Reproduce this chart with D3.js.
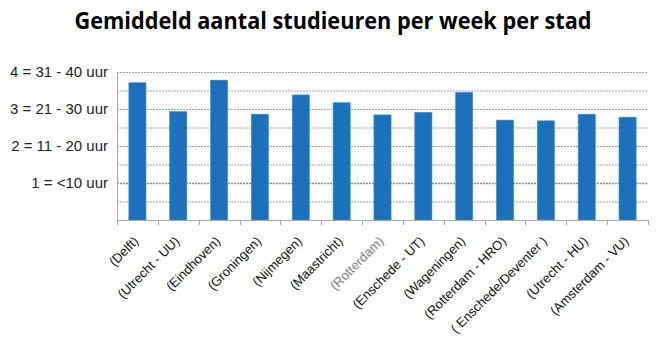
<!DOCTYPE html>
<html><head><meta charset="utf-8">
<script src="https://cdn.jsdelivr.net/npm/d3@7"></script>
<style>body{margin:0;background:#fff}svg{display:block}</style>
</head><body><svg id="c" width="666" height="348"></svg>
<script>
const categories = ["(Delft)","(Utrecht - UU)","(Eindhoven)","(Groningen)","(Nijmegen)","(Maastricht)","(Rotterdam)","(Enschede - UT)","(Wageningen)","(Rotterdam - HRO)","( Enschede/Deventer )","(Utrecht - HU)","(Amsterdam - VU)"];
const values = [3.71,2.93,3.78,2.86,3.38,3.17,2.84,2.91,3.45,2.70,2.68,2.86,2.78];
const yTickValues = [1,2,3,4];
const yTickLabels = ["1 = <10 uur","2 = 11 - 20 uur","3 = 21 - 30 uur","4 = 31 - 40 uur"];
const title = "Gemiddeld aantal studieuren per week per stad";

const svg = d3.select("#c");
const L = 117, R = 648, T = 72, B = 220;
const x = d3.scaleBand().domain(categories).range([L, R]).paddingInner(0.58).paddingOuter(0.29);
const xb = d3.scaleBand().domain(categories).range([L, R]);
const y = d3.scaleLinear().domain([0, 4]).range([B, T]);

svg.append("text").attr("x", 333).attr("y", 29).attr("text-anchor", "middle")
  .attr("font-family", "Open Sans").attr("font-weight", "bold").attr("font-size", 22.5)
  .attr("textLength", 517).attr("lengthAdjust", "spacingAndGlyphs")
  .attr("fill", "#000").text(title);

// gridlines
const grid = d3.range(0.5, 4.01, 0.5);
svg.append("g").selectAll("line").data(grid).join("line")
  .attr("x1", L).attr("x2", R).attr("y1", d => y(d) + 0.5).attr("y2", d => y(d) + 0.5)
  .attr("stroke", d => d === 1 ? "#8a8a8a" : "#a0a0a0")
  .attr("stroke-width", d => d === 1 ? 1.6 : 1)
  .attr("stroke-dasharray", "2,1");

// bars
svg.append("g").selectAll("rect").data(values).join("rect")
  .attr("x", (d, i) => x(categories[i])).attr("width", x.bandwidth())
  .attr("y", d => y(d)).attr("height", d => B - y(d))
  .attr("fill", "#1b72ba").attr("stroke", "#3d8fd0").attr("stroke-width", 0.6);

// axes
svg.append("line").attr("x1", L + 0.5).attr("x2", L + 0.5).attr("y1", T).attr("y2", B)
  .attr("stroke", "#a8a8a8");
svg.append("line").attr("x1", L).attr("x2", R).attr("y1", B + 0.5).attr("y2", B + 0.5)
  .attr("stroke", "#a8a8a8");
svg.append("g").selectAll("line").data(d3.range(categories.length + 1)).join("line")
  .attr("x1", i => Math.round(L + i * xb.step()) + 0.5).attr("x2", i => Math.round(L + i * xb.step()) + 0.5)
  .attr("y1", B).attr("y2", B + 5).attr("stroke", "#a8a8a8");

// y labels
svg.append("g").selectAll("text").data(yTickValues).join("text")
  .attr("x", 108).attr("y", d => y(d)).attr("dy", "0.35em").attr("text-anchor", "end")
  .attr("font-family", "Liberation Sans, Arial").attr("font-size", 15).attr("fill", "#222")
  .text((d, i) => yTickLabels[i]);

// x labels
svg.append("g").selectAll("text").data(categories).join("text")
  .attr("transform", d => `translate(${xb(d) + xb.bandwidth() / 2 + 2},${B + 22}) rotate(-45)`)
  .attr("text-anchor", "end")
  .attr("font-family", "Liberation Sans, Arial").attr("font-size", 13)
  .attr("fill", d => d === "(Rotterdam)" ? "#808080" : "#111")
  .text(d => d);
</script></body></html>
